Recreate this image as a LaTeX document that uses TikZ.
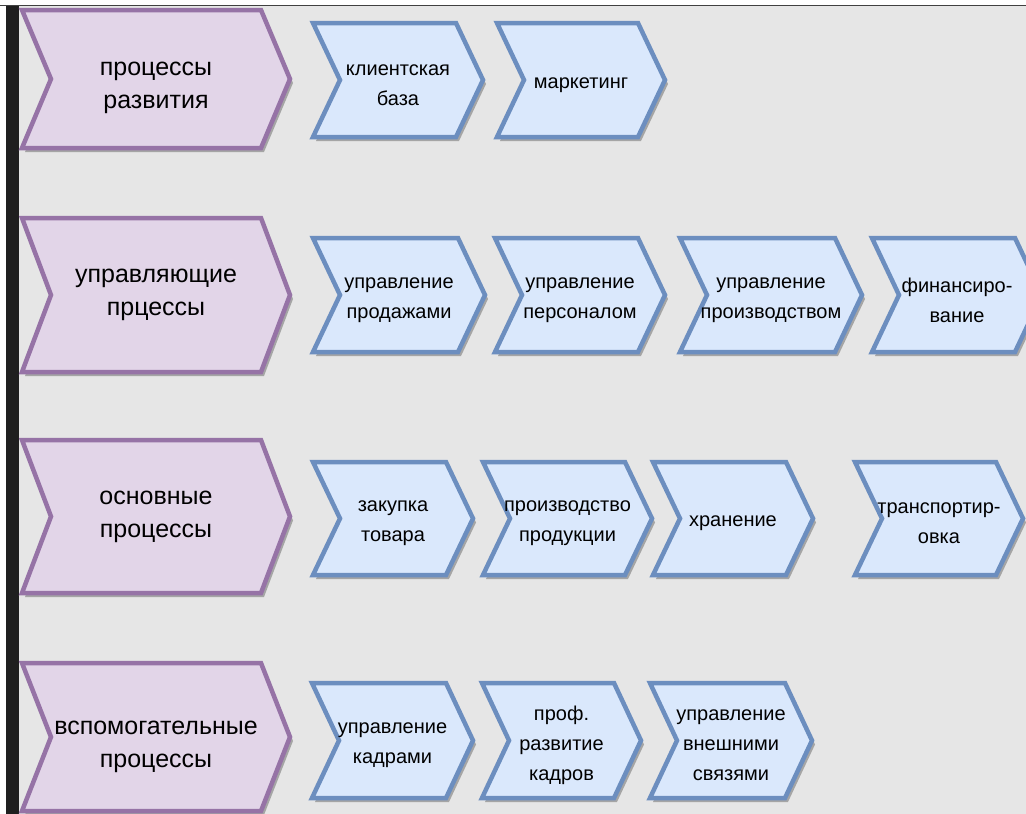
\documentclass[tikz,border=0pt]{standalone}
\usepackage{fontspec}
\setmainfont{Liberation Sans}
\usetikzlibrary{shadows}
\definecolor{bggray}{HTML}{E6E6E6}
\definecolor{pfill}{HTML}{E2D5E8}
\definecolor{pdraw}{HTML}{9673A6}
\definecolor{bfill}{HTML}{DAE8FC}
\definecolor{bdraw}{HTML}{6C8EBF}
\tikzset{
  chevshadow/.style={drop shadow={shadow xshift=3pt,shadow yshift=-4pt,fill=black,opacity=.28}},
  purplechev/.style={fill=pfill,draw=pdraw,line width=4.5pt,line join=miter,chevshadow},
  bluechev/.style={fill=bfill,draw=bdraw,line width=4.5pt,line join=miter,chevshadow},
  purplechev text/.style={align=center,font=\fontsize{25}{33}\selectfont,inner sep=0pt},
  bluechev text/.style={align=center,font=\fontsize{20}{30}\selectfont,inner sep=0pt,yshift=-5pt},
}
% #1 style, #2 name, #3 left x, #4 top y, #5 tip x, #6 bottom y, #7 depth, #8 text, #9 extra text options
\newcommand{\chevshape}[9]{%
  \path[#1] (#3,#4) -- (#5-#7,#4) -- (#5,{(#4+#6)/2}) -- (#5-#7,#6) -- (#3,#6)
     -- (#3+#7,{(#4+#6)/2}) -- cycle;
  \node[#1 text,#9] (#2) at ({(#3+#5)/2},{(#4+#6)/2}) {#8};
}
\begin{document}
\begin{tikzpicture}[x=1pt,y=-1pt]
\useasboundingbox (0,0) rectangle (1026,814);
\fill[white] (0,0) rectangle (1026,814);
\fill[bggray] (19,6) rectangle (1026,814);
\fill[black!88] (6,6) rectangle (19,814);
\draw[black!75,line width=1.5pt] (0,5.5) -- (1026,5.5);

% row 1
\chevshape{purplechev}{p1}{22}{10}{290}{148}{29}{процессы\\развития}{yshift=-9pt}
\chevshape{bluechev}{b11}{313}{23}{483}{137}{27}{клиентская\\база}{}
\chevshape{bluechev}{b12}{497}{23}{665}{137}{27}{маркетинг}{}

% row 2
\chevshape{purplechev}{p2}{22}{218}{290}{372}{29}{управляющие\\прцессы}{}
\chevshape{bluechev}{b21}{313}{238}{485}{352}{27}{управление\\продажами}{}
\chevshape{bluechev}{b22}{495}{238}{665}{352}{27}{управление\\персоналом}{}
\chevshape{bluechev}{b23}{680}{238}{862}{352}{27}{управление\\производством}{}
\chevshape{bluechev}{b24}{872}{238}{1042}{352}{27}{финансиро-\\вание}{}

% row 3
\chevshape{purplechev}{p3}{22}{440}{290}{593}{29}{основные\\процессы}{}
\chevshape{bluechev}{b31}{313}{462}{473}{575}{27}{закупка\\товара}{}
\chevshape{bluechev}{b32}{483}{462}{652}{575}{27}{производство\\продукции}{}
\chevshape{bluechev}{b33}{653}{462}{813}{575}{27}{хранение}{}
\chevshape{bluechev}{b34}{855}{462}{1023}{575}{27}{транспортир-\\овка}{}

% row 4
\chevshape{purplechev}{p4}{22}{663}{290}{811}{29}{вспомогательные\\процессы}{yshift=-10pt}
\chevshape{bluechev}{b41}{312}{683}{473}{798}{27}{управление\\кадрами}{}
\chevshape{bluechev}{b42}{482}{683}{641}{798}{27}{проф.\\развитие\\кадров}{}
\chevshape{bluechev}{b43}{650}{683}{812}{798}{27}{управление\\внешними\\связями}{}
\end{tikzpicture}
\end{document}
